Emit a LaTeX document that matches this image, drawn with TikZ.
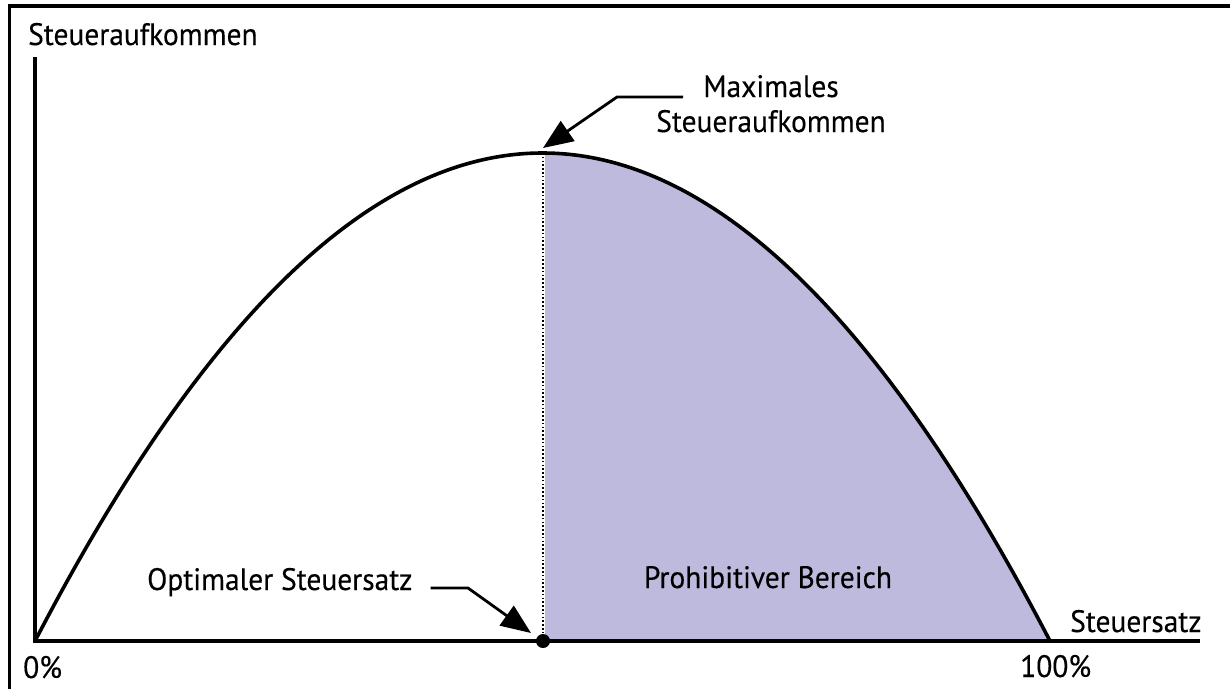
\documentclass[tikz,border=0pt]{standalone}
\usepackage{fontspec}
\setmainfont[FakeStretch=0.95,FakeBold=0.3]{PT Sans}
\usetikzlibrary{arrows.meta,calc}
\definecolor{lav}{RGB}{190,186,222}
\begin{document}
\begin{tikzpicture}[x=1pt,y=-1pt,
  lbl/.style={font=\fontsize{31}{37}\selectfont, inner sep=0pt, anchor=base west},
  lblc/.style={font=\fontsize{31}{37}\selectfont, inner sep=0pt, anchor=base},
  thick line/.style={line width=3.6pt},
  callout/.style={line width=2.8pt, -{Triangle[length=30pt,width=24pt]}}]
\useasboundingbox (0,0) rectangle (1230,689);
% frame
\draw[thick line] (9.5,689) -- (9.5,6) -- (1230,6);
% shaded region
\fill[lav] (545,641) -- plot[domain=545:1050,samples=120] (\x,{641-1952*((\x-35)/1015)*(1-(\x-35)/1015)}) -- cycle;
% axes
\coordinate (origin) at (35,641);
\coordinate (ytop) at (35,57);
\coordinate (xend) at (1200,641);
\draw[thick line] (ytop) -- (origin) -- (xend);
% dotted line
\coordinate (peak) at (543,153);
\coordinate (foot) at (543,641);
\draw[line width=2pt, dash pattern=on 1.6pt off 2.2pt] (peak) -- (foot);
% curve
\draw[thick line, line join=round] plot[domain=35:1050,samples=240] (\x,{641-1952*((\x-35)/1015)*(1-(\x-35)/1015)});
% dot
\fill (foot) circle (7);
% labels
\node[lbl] (ylab) at (28,45) {Steueraufkommen};
\node[lbl] (xlab) at (1070,632) {Steuersatz};
\node[lbl] (p0) at (23,678) {0\%};
\node[lbl] (p100) at (1020,677) {100\%};
\node[lbl] (opt) at (147,590) {Optimaler Steuersatz};
\node[lblc] (proh) at (768,588) {Prohibitiver Bereich};
\node[lblc] (max1) at (771,97) {Maximales};
\node[lblc] (max2) at (771,132) {Steueraufkommen};
% callouts
\coordinate (peaktip) at (543,148);
\coordinate (maxbend) at (617,97);
\draw[callout] ($(max1.base west)+(-20,0)$) -- (maxbend) -- (peaktip);
\coordinate (optbend) at (468,588);
\coordinate (opttip) at (531,633);
\draw[callout] ($(opt.base east)+(18,-2)$) -- (optbend) -- (opttip);
\end{tikzpicture}
\end{document}
